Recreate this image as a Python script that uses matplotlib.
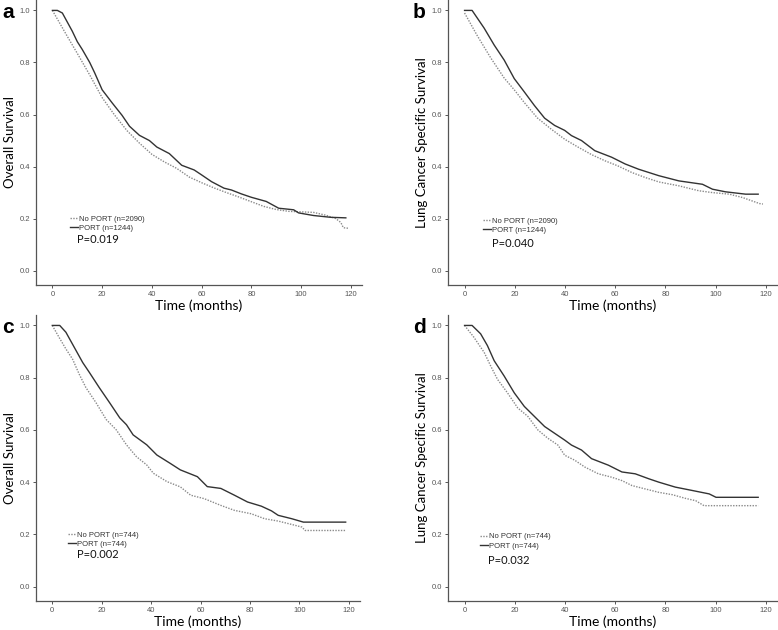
import matplotlib
matplotlib.use("Agg")
import matplotlib.pyplot as plt

# ---- data (months, survival probability) ----
a_port_t = [0, 2, 4, 6, 8, 10, 12, 15, 17, 20, 24, 28, 31, 35, 39, 42, 47, 52, 57, 60, 64, 69, 72, 76, 80, 86, 91, 97, 99, 105, 112, 118]
a_port_s = [1.0, 1.0, 0.99, 0.955, 0.92, 0.88, 0.85, 0.80, 0.76, 0.695, 0.645, 0.597, 0.555, 0.52, 0.50, 0.475, 0.45, 0.405, 0.387, 0.368, 0.342, 0.317, 0.31, 0.295, 0.282, 0.266, 0.24, 0.234, 0.222, 0.212, 0.205, 0.203]
a_noport_t = [0, 3, 6, 10, 15, 20, 25, 30, 35, 40, 45, 50, 55, 60, 65, 70, 75, 80, 85, 90, 95, 100, 105, 110, 114, 116, 117, 119]
a_noport_s = [1.0, 0.95, 0.9, 0.835, 0.752, 0.665, 0.598, 0.538, 0.49, 0.447, 0.418, 0.393, 0.36, 0.338, 0.318, 0.30, 0.283, 0.265, 0.247, 0.235, 0.228, 0.226, 0.224, 0.213, 0.20, 0.185, 0.165, 0.163]

b_port_t = [0, 3, 7.8, 11.8, 15.8, 19.8, 23.8, 27.8, 31.9, 35.9, 39.9, 42.6, 46.6, 51.9, 58.6, 64, 69.3, 77.4, 85.4, 94.8, 98.8, 104, 112, 117]
b_port_s = [1.0, 1.0, 0.932, 0.867, 0.809, 0.738, 0.687, 0.635, 0.586, 0.558, 0.539, 0.519, 0.50, 0.461, 0.436, 0.41, 0.39, 0.365, 0.345, 0.332, 0.313, 0.303, 0.294, 0.294]
b_noport_t = [0, 5, 10.4, 15.8, 19.8, 23.8, 29, 34.5, 39.9, 45, 50.6, 56, 61, 66.7, 72, 77.4, 85.4, 93.4, 98.8, 105.5, 110.8, 117.5, 118.9]
b_noport_s = [0.99, 0.904, 0.818, 0.74, 0.695, 0.646, 0.587, 0.544, 0.505, 0.476, 0.446, 0.422, 0.403, 0.377, 0.358, 0.341, 0.326, 0.307, 0.30, 0.294, 0.281, 0.258, 0.256]

c_port_t = [0, 3, 5.5, 8.9, 12.3, 15, 19, 23.2, 27.3, 30, 32.7, 38.2, 42.3, 47.7, 51.8, 58.7, 62.7, 68.2, 73.7, 79, 84.6, 88.7, 91.4, 96.9, 101.6, 118.7]
c_port_s = [1.0, 1.0, 0.974, 0.916, 0.858, 0.82, 0.762, 0.704, 0.646, 0.62, 0.581, 0.543, 0.504, 0.472, 0.447, 0.421, 0.383, 0.376, 0.35, 0.324, 0.308, 0.29, 0.273, 0.26, 0.247, 0.247]
c_noport_t = [0, 2.7, 5.5, 8.2, 10.9, 13.6, 17.7, 21.8, 25.9, 30, 34, 38.2, 40.9, 46.4, 51.8, 56, 61.4, 68.2, 73.7, 80.5, 85.9, 91.4, 96.9, 101, 102.3, 118.7]
c_noport_s = [1.0, 0.955, 0.91, 0.871, 0.813, 0.762, 0.704, 0.64, 0.60, 0.543, 0.498, 0.466, 0.434, 0.402, 0.382, 0.35, 0.337, 0.311, 0.292, 0.279, 0.26, 0.251, 0.238, 0.228, 0.215, 0.215]

d_port_t = [0, 3, 6.4, 9.1, 11.8, 15.8, 19.8, 23.8, 27.8, 31.9, 35.9, 39.9, 42.6, 46.6, 50.6, 57.3, 62.7, 68, 73.4, 77.4, 84, 90.8, 97.5, 100.2, 117]
d_port_s = [1.0, 1.0, 0.968, 0.923, 0.865, 0.806, 0.742, 0.69, 0.652, 0.613, 0.587, 0.561, 0.542, 0.523, 0.49, 0.465, 0.439, 0.432, 0.413, 0.40, 0.381, 0.368, 0.355, 0.342, 0.342]
d_noport_t = [0, 3.7, 7.8, 10.4, 13.1, 17.1, 21.2, 25.2, 29.2, 33.2, 37.2, 39.9, 43.9, 47.9, 53.3, 58.6, 62.7, 66.7, 72, 77.4, 82.8, 88, 92.1, 95.4, 117]
d_noport_s = [1.0, 0.955, 0.897, 0.845, 0.794, 0.742, 0.684, 0.652, 0.60, 0.568, 0.542, 0.503, 0.484, 0.458, 0.432, 0.419, 0.406, 0.387, 0.374, 0.361, 0.352, 0.338, 0.329, 0.31, 0.31]

panel_letters = ["a", "b", "c", "d"]
y_labels = ["Overall Survival", "Lung Cancer Specific Survival", "Overall Survival", "Lung Cancer Specific Survival"]
p_values = ["P=0.019", "P=0.040", "P=0.002", "P=0.032"]
n_noport = [2090, 2090, 744, 744]
n_port = [1244, 1244, 744, 744]

W, H = 778, 630
fig = plt.figure(figsize=(W / 100, H / 100), dpi=100)

# pixel boxes: left, top, right, bottom
boxes = [(36, 0, 362, 285), (448, 0, 777, 285), (36, 315, 360, 601), (448, 315, 777, 601)]
legend_pos = [(0.104, 0.245), (0.106, 0.238), (0.099, 0.244), (0.097, 0.238)]
p_pos = [(0.126, 0.161), (0.134, 0.144), (0.126, 0.161), (0.122, 0.143)]
letter_px = [(2, 3), (413, 3), (2, 318), (413, 318)]

series = [
    (a_noport_t, a_noport_s, a_port_t, a_port_s),
    (b_noport_t, b_noport_s, b_port_t, b_port_s),
    (c_noport_t, c_noport_s, c_port_t, c_port_s),
    (d_noport_t, d_noport_s, d_port_t, d_port_s),
]

for i in range(4):
    l, t, r, b = boxes[i]
    ax = fig.add_axes([l / W, 1 - b / H, (r - l) / W, (b - t) / H])
    nt, ns, pt, ps = series[i]
    h1, = ax.plot(nt, ns, color="#8a8a8a", lw=1.0, linestyle=(0, (1, 1)))
    h2, = ax.plot(pt, ps, color="#333333", lw=1.0)
    ax.set_xlim(-6.6, 124.5)
    ax.set_ylim(-0.055, 1.04)
    ax.set_xticks([0, 20, 40, 60, 80, 100, 120])
    ax.set_yticks([0.0, 0.2, 0.4, 0.6, 0.8, 1.0])
    ax.set_yticklabels(["0.0", "0.2", "0.4", "0.6", "0.8", "1.0"])
    for s in ["top", "right"]:
        ax.spines[s].set_visible(False)
    for s in ["left", "bottom"]:
        ax.spines[s].set_color("#555555")
        ax.spines[s].set_linewidth(0.9)
    ax.tick_params(labelsize=5.5, colors="#555555", length=2.5, width=0.7, pad=2)
    for lab in ax.get_xticklabels() + ax.get_yticklabels():
        lab.set_family("Liberation Sans")
    ax.set_xlabel("Time (months)", fontsize=10, family="Lato", labelpad=1)
    ax.set_ylabel(y_labels[i], fontsize=9.5, family="Lato", labelpad=2)
    ax.legend([h1, h2], ["No PORT (n=%d)" % n_noport[i], "PORT (n=%d)" % n_port[i]],
              loc="upper left", bbox_to_anchor=legend_pos[i], frameon=False,
              prop={"family": "Liberation Sans", "size": 5.5}, handlelength=1.1,
              handletextpad=0.1, labelspacing=0.25, borderpad=0, borderaxespad=0,
              labelcolor="#333333")
    ax.text(p_pos[i][0], p_pos[i][1], p_values[i], transform=ax.transAxes,
            fontsize=8, family="Lato", va="center", ha="left", color="#111111")
    fig.text(letter_px[i][0] / W, 1 - letter_px[i][1] / H, panel_letters[i],
             fontsize=15, fontweight="bold", family="Liberation Sans", va="top", ha="left")

fig.savefig("out.png", dpi=100)
